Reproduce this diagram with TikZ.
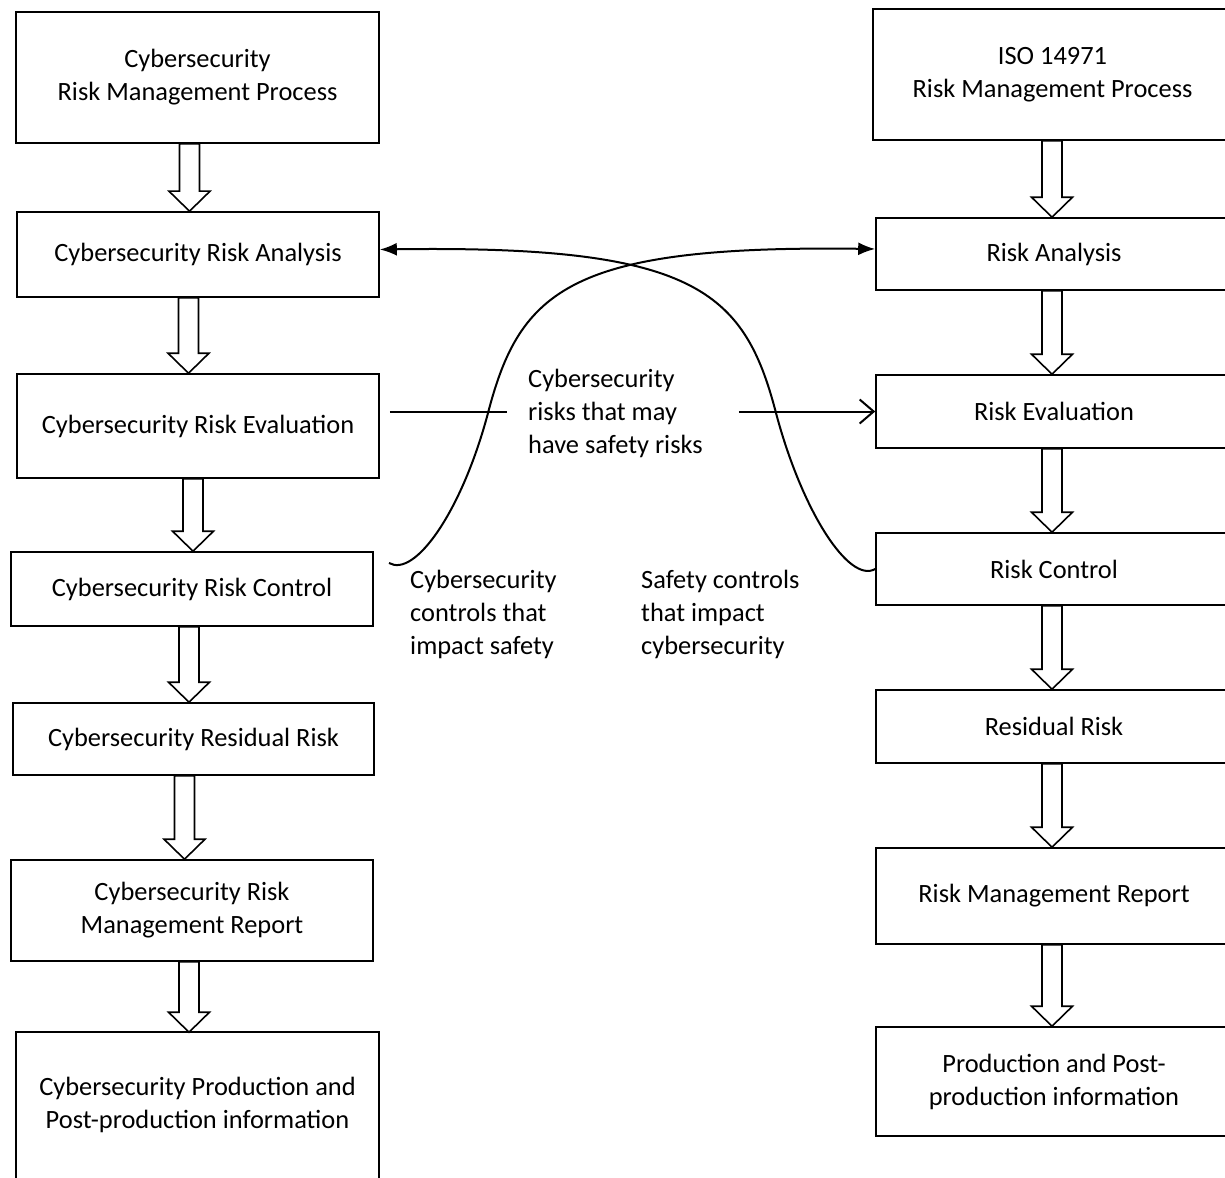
\documentclass[tikz,border=0pt]{standalone}
\usepackage{fontspec}
\setmainfont{Carlito}
\usetikzlibrary{arrows.meta,calc}
\tikzset{
  txt/.style={font=\fontsize{26.4pt}{33pt}\selectfont},
  box/.style={txt, draw, line width=1.6pt, inner sep=0pt, align=center},
  hol/.style={draw, line width=1.6pt, fill=white, line join=miter},
  link/.style={line width=2pt},
  lbl/.style={txt, inner sep=0pt, align=left, anchor=west},
}
\newcommand{\harrow}[3]{%
  \draw[hol] let \p1=(#1.south), \p2=(#2.north) in
    ({#3pt-10pt},\y1) -- ({#3pt-10pt},\y2+20pt) -- ({#3pt-20.5pt},\y2+20pt)
    -- ({#3pt},\y2) -- ({#3pt+20.5pt},\y2+20pt) -- ({#3pt+10pt},\y2+20pt)
    -- ({#3pt+10pt},\y1) -- cycle;}
\begin{document}
\begin{tikzpicture}[x=1pt,y=-1pt]
\useasboundingbox (0,0) rectangle (1225,1177);
% left column
\node[box, minimum width=363pt, minimum height=131pt] (l1) at (197.5,77.5) {Cybersecurity\\Risk Management Process};
\node[box, minimum width=362pt, minimum height=85pt] (l2) at (198,254.5) {Cybersecurity Risk Analysis};
\node[box, minimum width=362pt, minimum height=104pt] (l3) at (198,426) {Cybersecurity Risk Evaluation};
\node[box, minimum width=362pt, minimum height=74pt] (l4) at (192,589) {Cybersecurity Risk Control};
\node[box, minimum width=361pt, minimum height=72pt] (l5) at (193.5,739) {Cybersecurity Residual Risk};
\node[box, minimum width=362pt, minimum height=101pt] (l6) at (192,910.5) {Cybersecurity Risk\\Management Report};
\node[box, draw=none, minimum width=361pt, minimum height=144pt] (l7) at (197.5,1105) {Cybersecurity Production and\\Post-production information};
\draw[line width=1.6pt] (l7.south west) -- (l7.north west) -- (l7.north east) -- (l7.south east);
% right column
\node[box, minimum width=359pt, minimum height=131pt] (r1) at (1052.5,74.5) {ISO 14971\\Risk Management Process};
\node[box, minimum width=356pt, minimum height=72pt] (r2) at (1054,254) {Risk Analysis};
\node[box, minimum width=356pt, minimum height=73pt] (r3) at (1054,411.5) {Risk Evaluation};
\node[box, minimum width=356pt, minimum height=72pt] (r4) at (1054,569) {Risk Control};
\node[box, minimum width=356pt, minimum height=73pt] (r5) at (1054,726.5) {Residual Risk};
\node[box, minimum width=356pt, minimum height=96pt] (r6) at (1054,896) {Risk Management Report};
\node[box, minimum width=356pt, minimum height=109pt] (r7) at (1054,1081.5) {Production and Post-\\production information};
% hollow arrows
\harrow{l1}{l2}{189.5}
\harrow{l2}{l3}{188.5}
\harrow{l3}{l4}{193}
\harrow{l4}{l5}{189}
\harrow{l5}{l6}{184.5}
\harrow{l6}{l7}{189}
\harrow{r1}{r2}{1052}
\harrow{r2}{r3}{1052}
\harrow{r3}{r4}{1052}
\harrow{r4}{r5}{1052}
\harrow{r5}{r6}{1052}
\harrow{r6}{r7}{1052}
% labels
\node[lbl] (mid) at (528,413) {Cybersecurity\\risks that may\\have safety risks};
\node[lbl] (lc) at (410,614) {Cybersecurity\\controls that\\impact safety};
\node[lbl] (rc) at (641,614) {Safety controls\\that impact\\cybersecurity};
% connectors
\draw[link] ($(l3.east |- r3.west)+(10,0)$) -- ($(mid.west |- r3.west)+(-21,0)$);
\draw[link,-{Straight Barb[length=14pt,width=24pt]}] ($(mid.east |- r3.west)+(36,0)$) -- (r3.west);
\coordinate (c1s) at (389,563);
\draw[link,-{Latex[length=17pt,width=13pt]}] (c1s) .. controls (415,578) and (462,511) .. (488,413)
  .. controls (520,290) and (570,245) .. ([yshift=5pt]r2.west);
\draw[link,-{Latex[length=17pt,width=13pt]}] (r4.west) .. controls (849,584) and (802,511) .. (776,413)
  .. controls (744,290) and (694,245) .. ([yshift=5pt]l2.east);
\end{tikzpicture}
\end{document}
